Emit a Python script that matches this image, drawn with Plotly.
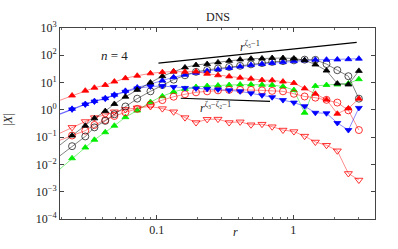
import plotly.graph_objects as go

r = [0.018, 0.024, 0.030, 0.035, 0.042, 0.049, 0.059, 0.072, 0.090, 0.110, 0.133, 0.161,
     0.194, 0.234, 0.281, 0.339, 0.408, 0.490, 0.590, 0.700, 0.840, 1.01, 1.21, 1.45,
     1.75, 2.10, 2.53, 3.02]

red_tri = [1.93, 3.35, 5.05, 6.47, 8.14, 10.9, 14.5, 17.8, 21.8, 24.1, 25.3, 24.7, 25.3, 21.0,
           18.5, 16.8, 15.1, 13.9, 12.3, 12.1, 10.9, 9.6, 6.1, 3.88, 2.37, 0.72, 1.13, 2.57]
blue_up = [0.61, 1.09, 1.64, 2.10, 2.68, 3.58, 4.97, 6.63, 8.84, 11.8, 15.7, 19.3, 22.8, 26.8,
           30.4, 34.3, 38.8, 43.9, 47.7, 51.8, 56.2, 61.1, 64.7, 68.0, 69.1, 70.3, 71.9, 75.0]
blue_down = [0.586, 1.04, 1.57, 2.01, 2.57, 3.43, 4.58, 6.1, 7.2, 7.5, 6.91, 6.36, 6.1, 5.86,
             5.62, 5.18, 4.77, 4.05, 3.43, 2.91, 2.28, 1.85, 1.36, 0.78, 0.75, 0.33, 0.182, 1.18]
red_vee = [0.115, 0.228, 0.373, 0.52, 0.663, 0.85, 1.04, 1.18, 1.33, 1.11, 0.85, 0.52, 0.343,
           0.45, 0.458, 0.343, 0.364, 0.284, 0.299, 0.241, 0.182, 0.16, 0.109, 0.0663, 0.0505,
           0.0316, 0.00466, 0.00268]
black_tri = [0.0373, 0.115, 0.262, 0.489, 0.899, 1.64, 3.03, 5.40, 10.0, 17.1, 25.3, 35.8, 43.9,
             47.7, 54.9, 62.6, 70.3, 75.0, 76.3, 79.4, 79.4, 76.3, 66.3, 45.8, 27.5, 9.21, 8.48, 26.8]
black_circ = [0.0151, 0.0466, 0.106, 0.228, 0.395, 0.69, 1.33, 2.57, 4.77, 8.14, 12.8, 18.5, 24.7,
              29.1, 32.9, 37.3, 41.1, 46.5, 51.8, 57.1, 61.1, 65.2, 69.1, 68.0, 47.7, 28.4, 17.1, 2.57]
red_circ = [0.066, 0.115, 0.173, 0.279, 0.422, 0.596, 0.814, 1.09, 1.57, 2.28, 3.03, 3.73, 4.39,
            4.77, 5.18, 5.40, 5.40, 5.40, 5.18, 4.97, 4.77, 3.88, 3.09, 2.80, 2.33, 1.85, 0.96, 0.182]
green_tri = [0.00477, 0.0168, 0.0415, 0.080, 0.151, 0.262, 0.54, 0.944, 1.93, 3.16, 4.58, 5.86,
             6.91, 7.5, 7.82, 8.14, 8.48, 8.48, 8.27, 8.14, 7.2, 5.31, 0.78, 7.5, 8.14, 8.48, 9.21, 13.3]

guide_hi_r = [0.103, 2.91]
guide_hi_v = [51.8, 298.0]
guide_lo_r = [0.150, 0.675]
guide_lo_v = [2.68, 2.05]

ytick_vals = [1e-4, 1e-3, 1e-2, 1e-1, 1, 10, 100, 1000]
ytick_text = ["10<sup>−4</sup>", "10<sup>−3</sup>", "10<sup>−2</sup>", "10<sup>−1</sup>",
              "10<sup>0</sup>", "10<sup>1</sup>", "10<sup>2</sup>", "10<sup>3</sup>"]
xtick_vals = [0.1, 1]
xtick_text = ["0.1", "1"]
xminor_vals = [0.02, 0.03, 0.04, 0.05, 0.06, 0.07, 0.08, 0.09,
               0.2, 0.3, 0.4, 0.5, 0.6, 0.7, 0.8, 0.9, 2, 3]

series = [
    (red_vee, "triangle-down-open", "#ff0000", "rgba(255,0,0,0.5)", 7),
    (green_tri, "triangle-up", "#00ee00", "rgba(0,220,0,0.55)", 6),
    (red_circ, "circle-open", "#ff0000", "rgba(255,0,0,0.5)", 7),
    (black_circ, "circle-open", "#222222", "rgba(0,0,0,0.55)", 7),
    (blue_down, "triangle-down", "#0000ff", "rgba(0,0,255,0.5)", 6),
    (blue_up, "triangle-up", "#0000ff", "rgba(0,0,255,0.5)", 6),
    (black_tri, "triangle-up", "#000000", "rgba(0,0,0,0.55)", 6),
    (red_tri, "triangle-up", "#ff0000", "rgba(255,0,0,0.5)", 6),
]

fig = go.Figure()
for vals, sym, mcol, lcol, size in series:
    fig.add_trace(go.Scatter(
        x=r, y=vals, mode="lines+markers",
        line=dict(color=lcol, width=0.9),
        marker=dict(symbol=sym, color=mcol, size=size, line=dict(color=mcol, width=0.8)),
        showlegend=False))

for gx, gy in [(guide_hi_r, guide_hi_v), (guide_lo_r, guide_lo_v)]:
    fig.add_trace(go.Scatter(x=gx, y=gy, mode="lines",
                             line=dict(color="black", width=1.1), showlegend=False))

font_family = "Liberation Serif"
fig.update_layout(
    width=398, height=249,
    margin=dict(l=60, r=23, t=28, b=25),
    paper_bgcolor="white", plot_bgcolor="white",
    font=dict(family=font_family, size=12, color="#222"),
    xaxis=dict(type="log", range=[-1.708, 0.598], showgrid=False, zeroline=False,
               tickvals=xtick_vals, ticktext=xtick_text, ticks="inside", ticklen=4,
               tickcolor="#444", showline=True, linecolor="#444", linewidth=1,
               mirror="allticks", tickfont=dict(size=12, family=font_family),
               minor=dict(tickvals=xminor_vals, ticks="inside", ticklen=2, tickcolor="#666")),
    yaxis=dict(type="log", range=[-4, 3], showgrid=False, zeroline=False,
               tickvals=ytick_vals, ticktext=ytick_text, ticks="inside", ticklen=4,
               tickcolor="#444", showline=True, linecolor="#444", linewidth=1,
               mirror="allticks", tickfont=dict(size=12, family=font_family)),
)

fig.add_annotation(text="|<i>X</i>|", xref="paper", yref="paper", x=-0.165, y=0.52,
                   showarrow=False, textangle=-90, font=dict(size=12, family=font_family),
                   xanchor="center", yanchor="middle")
fig.add_annotation(text="DNS", xref="paper", yref="paper", x=0.50, y=1.056,
                   showarrow=False, font=dict(size=12, family=font_family), yanchor="middle")
fig.add_annotation(text="<i>r</i>", xref="paper", yref="paper", x=0.556, y=-0.066,
                   showarrow=False, font=dict(size=12, family=font_family), yanchor="middle")
fig.add_annotation(text="<i>n</i> = 4", xref="paper", yref="paper", x=0.124, y=0.857,
                   showarrow=False, font=dict(size=13, family=font_family), yanchor="middle")
fig.add_annotation(text="<i>r</i><sup>ζ₅−1</sup>", xref="paper", yref="paper", x=0.603, y=0.905,
                   showarrow=False, font=dict(size=12, family=font_family), yanchor="middle")
fig.add_annotation(text="<i>r</i><sup>ζ₃−ζ₂−1</sup>", xref="paper", yref="paper", x=0.495, y=0.585,
                   showarrow=False, font=dict(size=12, family=font_family), yanchor="middle")

fig.write_html("out.html", config={"displayModeBar": False},
               post_script="document.body.style.margin='0';")
